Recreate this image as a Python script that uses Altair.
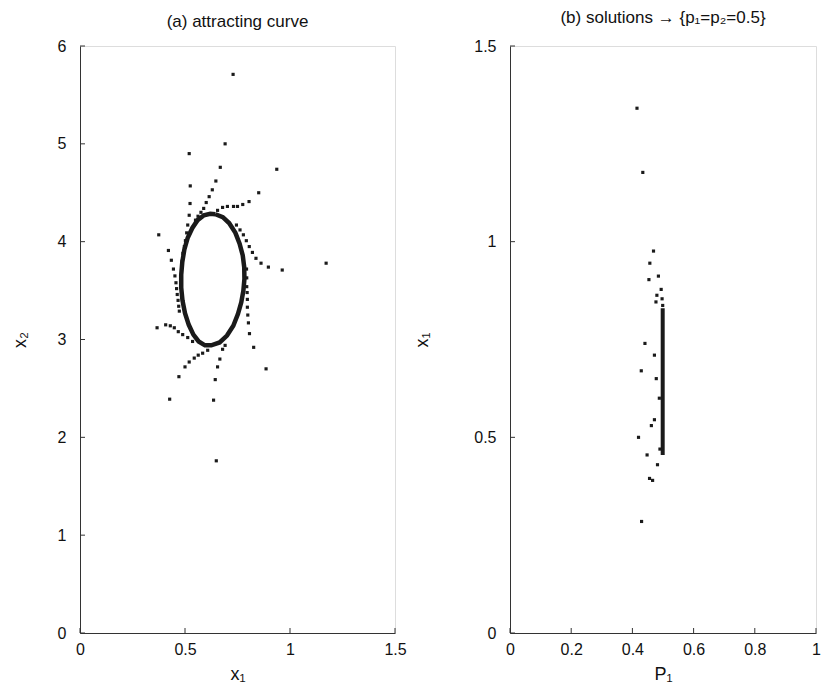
import altair as alt
import pandas as pd

FONT = "Liberation Sans"

# ---------------- panel (a) data ----------------
# scattered trajectory points (x1, x2)
a_x1 = [0.729, 0.691, 0.520, 0.668, 0.937, 0.647, 0.525, 0.630, 0.851, 0.615,
        0.524, 0.601, 0.805, 0.775, 0.750, 0.731, 0.702, 0.679, 0.655, 0.589,
        0.576, 0.562, 0.550, 0.520, 0.513, 0.508, 0.502, 0.375, 0.421, 0.435,
        0.445, 0.452, 0.457, 0.460, 0.463, 0.467, 0.470, 0.473, 0.367, 0.408,
        0.430, 0.449, 0.468, 0.489, 0.513, 0.536, 1.172, 0.963, 0.897, 0.862,
        0.838, 0.821, 0.806, 0.792, 0.778, 0.762, 0.745, 0.793, 0.794, 0.794,
        0.796, 0.797, 0.797, 0.799, 0.802, 0.807, 0.827, 0.886, 0.691, 0.679,
        0.666, 0.655, 0.644, 0.636, 0.471, 0.500, 0.520, 0.544, 0.563, 0.584,
        0.608, 0.427, 0.649, 0.497, 0.490, 0.486]
a_x2 = [5.71, 5.00, 4.90, 4.76, 4.74, 4.62, 4.57, 4.53, 4.50, 4.46,
        4.39, 4.40, 4.41, 4.38, 4.36, 4.36, 4.36, 4.35, 4.32, 4.34,
        4.30, 4.26, 4.22, 4.27, 4.17, 4.09, 4.01, 4.07, 3.91, 3.81,
        3.72, 3.65, 3.58, 3.52, 3.46, 3.40, 3.34, 3.29, 3.12, 3.15,
        3.14, 3.12, 3.08, 3.05, 3.02, 2.98, 3.78, 3.71, 3.74, 3.78,
        3.83, 3.89, 3.95, 4.01, 4.07, 4.12, 4.17, 3.72, 3.63, 3.54,
        3.48, 3.41, 3.33, 3.25, 3.17, 3.06, 2.92, 2.70, 2.94, 2.90,
        2.80, 2.72, 2.59, 2.38, 2.62, 2.72, 2.77, 2.81, 2.84, 2.86,
        2.89, 2.39, 1.76, 3.95, 3.88, 3.80]

# the dense attracting closed curve (read around the ring)
ring_x1 = [0.645, 0.680, 0.710, 0.740, 0.760, 0.775, 0.782, 0.783, 0.778, 0.768,
           0.752, 0.730, 0.700, 0.665, 0.625, 0.595, 0.565, 0.540, 0.518, 0.500,
           0.488, 0.482, 0.482, 0.487, 0.497, 0.513, 0.535, 0.560, 0.590, 0.620,
           0.645]
ring_x2 = [4.28, 4.25, 4.19, 4.09, 3.98, 3.86, 3.74, 3.62, 3.50, 3.38,
           3.26, 3.14, 3.04, 2.97, 2.94, 2.94, 2.98, 3.05, 3.15, 3.27,
           3.40, 3.53, 3.66, 3.79, 3.92, 4.04, 4.14, 4.22, 4.27, 4.285,
           4.28]

a_xticks = [0, 0.5, 1, 1.5]
a_yticks = [0, 1, 2, 3, 4, 5, 6]

# ---------------- panel (b) data ----------------
b_p1 = [0.415, 0.434, 0.469, 0.457, 0.485, 0.454, 0.494, 0.480, 0.497, 0.477,
        0.499, 0.441, 0.429, 0.472, 0.478, 0.488, 0.472, 0.462, 0.420, 0.448,
        0.456, 0.466, 0.430, 0.482, 0.490]
b_x1 = [1.341, 1.177, 0.976, 0.945, 0.912, 0.903, 0.878, 0.863, 0.854, 0.846,
        0.837, 0.740, 0.670, 0.710, 0.650, 0.600, 0.545, 0.530, 0.500, 0.455,
        0.395, 0.390, 0.285, 0.430, 0.470]
# dense column of converged solutions
col_p1 = [0.499, 0.499]
col_x1 = [0.455, 0.830]

b_xticks = [0, 0.2, 0.4, 0.6, 0.8, 1]
b_yticks = [0, 0.5, 1, 1.5]

# ---------------- chart ----------------
H = 587
WA = 315
WB = 306
INK = "#1a1a1a"
AX = "#333333"


def axis(values, title_pad, label_pad):
    return alt.Axis(values=values, format="~g", ticks=False, tickSize=0, grid=False,
                    labelFlush=False, labelOverlap=False, domainColor=AX,
                    domainWidth=1, labelFont=FONT, labelFontSize=16, labelColor="#111",
                    labelPadding=label_pad, titleFont=FONT, titleFontSize=18,
                    titleFontWeight="normal", titleColor="#111", titlePadding=title_pad)


def panel(pts, ring_df, xticks, yticks, xdom, ydom, xtitle, ytitle, w,
          ytitle_pad, title, title_off, ring_w):
    xs = alt.Scale(domain=xdom, nice=False, zero=False)
    ys = alt.Scale(domain=ydom, nice=False, zero=False)
    xa = axis(xticks, 8, 8)
    ya = axis(yticks, ytitle_pad, 14)

    def X(f):
        return alt.X(f, type="quantitative", scale=xs, axis=xa, title=xtitle)

    def Y(f):
        return alt.Y(f, type="quantitative", scale=ys, axis=ya, title=ytitle)

    dots = alt.Chart(pts).mark_square(size=10, color=INK, opacity=1).encode(
        x=X("x"), y=Y("y"))
    curve = alt.Chart(ring_df).mark_line(color=INK, strokeWidth=ring_w).encode(
        x=X("x"), y=Y("y"), order="o:Q")
    xt = alt.Chart(pd.DataFrame({"v": xticks})).mark_rule(color=AX).encode(
        x=X("v"), y=alt.value(H - 5), y2=alt.value(H))
    yt = alt.Chart(pd.DataFrame({"v": yticks})).mark_rule(color=AX).encode(
        y=Y("v"), x=alt.value(0), x2=alt.value(5))
    return alt.layer(curve, dots, xt, yt).properties(
        width=w, height=H,
        title=alt.TitleParams(title, font=FONT, fontSize=17, fontWeight="normal",
                              color="#111", anchor="middle", offset=title_off))


ptsA = pd.DataFrame({"x": a_x1, "y": a_x2})
ringA = pd.DataFrame({"x": ring_x1, "y": ring_x2, "o": list(range(len(ring_x1)))})
ptsB = pd.DataFrame({"x": b_p1, "y": b_x1})
colB = pd.DataFrame({"x": col_p1, "y": col_x1, "o": [0, 1]})

left = panel(ptsA, ringA, a_xticks, a_yticks, [0, 1.5], [0, 6], "x₁", "x₂", WA,
             28, "(a) attracting curve", 7, 4.5)
right = panel(ptsB, colB, b_xticks, b_yticks, [0, 1], [0, 1.5], "P₁", "x₁", WB,
              42, "(b) solutions → {p₁=p₂=0.5}", 11, 4.0)

chart = alt.hconcat(left, right, spacing=6).properties(
    padding={"left": 2, "top": 0, "right": 0, "bottom": 0}
).configure_view(stroke=None).configure(background="white")

chart.save("out.html", embed_options={"renderer": "svg", "actions": False})
